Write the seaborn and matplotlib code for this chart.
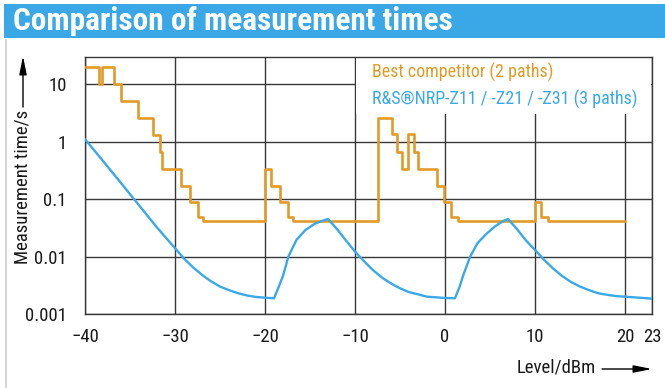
import matplotlib
matplotlib.use("Agg")
import matplotlib.pyplot as plt
import seaborn as sns
import pandas as pd
from matplotlib.patches import Rectangle, FancyArrowPatch
from matplotlib.lines import Line2D
from matplotlib.ticker import NullLocator

# ---------------- data ----------------
orange_level = [-40, -38.5, -38.1, -36.8, -36.0, -34.1, -32.5, -31.7, -31.4, -29.3,
                -28.3, -27.5, -26.9, -20.0, -19.3, -18.3, -17.5, -16.9, -7.5, -5.9,
                -5.3, -4.8, -4.1, -3.4, -3.0, -0.9, -0.1, 0.7, 1.4, 10.0,
                10.7, 11.4, 20.0]
orange_time = [20, 10, 20, 10, 5, 2.6, 1.3, 0.67, 0.34, 0.17,
               0.09, 0.049, 0.042, 0.33, 0.17, 0.09, 0.049, 0.042, 2.6, 1.33,
               0.67, 0.33, 1.33, 0.67, 0.33, 0.17, 0.09, 0.049, 0.042, 0.09,
               0.049, 0.042, 0.042]

blue_level = [-40, -38, -36, -34, -32, -30, -29, -28, -27, -26,
              -25, -24, -23, -22, -21, -20, -19.0, -18.5, -18, -17.4,
              -16.5, -15.5, -14.5, -13.6, -13.0, -12, -11, -10, -9, -8,
              -7, -6, -5, -4, -3, -2, -1, 0, 1.1, 1.6,
              2, 2.8, 3.6, 4.5, 5.5, 6.4, 7.0, 8, 9, 10,
              11, 12, 13, 14, 15, 16, 17, 18, 19, 20,
              21, 22, 23]
blue_time = [1.1, 0.46, 0.19, 0.078, 0.032, 0.014, 0.0092, 0.0065, 0.0048, 0.0037,
             0.0030, 0.0026, 0.0023, 0.0021, 0.00198, 0.00192, 0.00188, 0.0029, 0.0046, 0.0100,
             0.0195, 0.029, 0.037, 0.042, 0.045, 0.030, 0.019, 0.0122, 0.0083, 0.0058,
             0.0043, 0.0034, 0.0028, 0.0024, 0.0022, 0.0020, 0.00195, 0.0019, 0.00188, 0.0029,
             0.0046, 0.0100, 0.017, 0.024, 0.033, 0.041, 0.045, 0.030, 0.019, 0.013,
             0.0088, 0.0062, 0.0046, 0.0036, 0.0030, 0.0026, 0.0023, 0.00216, 0.00205, 0.0020,
             0.00195, 0.0019, 0.00185]

series_labels = ["Best competitor (2 paths)", "R&S®NRP-Z11 / -Z21 / -Z31 (3 paths)"]
x_ticks = [-40, -30, -20, -10, 0, 10, 20, 23]
x_tick_labels = ["\u221240", "\u221230", "\u221220", "\u221210", "0", "10", "20", "23"]
y_ticks = [0.001, 0.01, 0.1, 1, 10]
y_tick_labels = ["0.001", "0.01", "0.1", "1", "10"]
title = "Comparison of measurement times"
y_label = "Measurement time/s"
x_label = "Level/dBm"

# ---------------- style ----------------
ORANGE = "#E19A28"
BLUE = "#39A9E7"
BAR = "#3AA7E6"
GRID = "#383838"
TXT = "#1a1a1a"

sns.set_theme(style="white")
plt.rcParams["font.family"] = ["Roboto Condensed", "Liberation Sans", "DejaVu Sans"]

W, H = 665, 388
fig = plt.figure(figsize=(W / 100, H / 100), dpi=100)
fig.patch.set_facecolor("white")

def fy(py):
    return 1 - py / H

# title bar
fig.add_artist(Rectangle((4 / W, fy(38)), 1 - 4 / W, 34 / H, transform=fig.transFigure,
                         facecolor=BAR, edgecolor="none", zorder=0))
fig.text(13 / W, fy(21.5), title, color="white", fontsize=22.5, fontweight="bold",
         ha="left", va="center")
fig.add_artist(Line2D([6 / W, 6 / W], [0, fy(40)], transform=fig.transFigure,
                      color="#d6d6d6", lw=1.5))

ax = fig.add_axes([85 / W, fy(314), (652 - 85) / W, (314 - 56.7) / H])

df_orange = pd.DataFrame({"level": orange_level, "time": orange_time})
df_blue = pd.DataFrame({"level": blue_level, "time": blue_time})

sns.lineplot(data=df_orange, x="level", y="time", ax=ax, color=ORANGE, lw=1.9,
             drawstyle="steps-post", estimator=None, sort=False, legend=False, zorder=3)
sns.lineplot(data=df_blue, x="level", y="time", ax=ax, color=BLUE, lw=1.7,
             estimator=None, sort=False, legend=False, zorder=4)

ax.set_yscale("log")
ax.set_xlim(-40, 23)
ax.set_ylim(0.001, 30)
ax.set_xticks(x_ticks, x_tick_labels)
ax.set_yticks(y_ticks, y_tick_labels)
ax.yaxis.set_minor_locator(NullLocator())
ax.xaxis.set_minor_locator(NullLocator())
ax.set_xlabel("")
ax.set_ylabel("")
ax.grid(True, which="major", color=GRID, lw=1.0)
ax.set_axisbelow(True)
for s in ax.spines.values():
    s.set_visible(True)
    s.set_color(GRID)
    s.set_linewidth(1.0)
ax.tick_params(axis="both", direction="out", length=7, width=1.0, color=GRID,
               labelsize=13.5, labelcolor=TXT)
ax.tick_params(axis="y", pad=6)
ax.tick_params(axis="x", pad=3)

ax.add_patch(Rectangle((0.478, 0.777), 0.52, 0.223, transform=ax.transAxes,
                       facecolor="white", edgecolor="none", zorder=1.5))
ax.text(0.506, 0.918, series_labels[0], color=ORANGE, fontsize=13,
        transform=ax.transAxes, va="baseline", ha="left", zorder=5)
ax.text(0.506, 0.815, series_labels[1], color=BLUE, fontsize=13,
        transform=ax.transAxes, va="baseline", ha="left", zorder=5)

fig.text(23 / W, fy(187), y_label, rotation=90, ha="center", va="center",
         fontsize=13.5, color=TXT)
fig.add_artist(FancyArrowPatch((23 / W, fy(107)), (23 / W, fy(56)),
                               transform=fig.transFigure,
                               arrowstyle="-|>,head_length=1.1,head_width=0.22",
                               mutation_scale=10, color="black", lw=1.0,
                               shrinkA=0, shrinkB=0))
fig.text(556 / W, fy(368), x_label, ha="center", va="center", fontsize=13.5,
         color=TXT)
fig.add_artist(FancyArrowPatch((602 / W, fy(369)), (652 / W, fy(369)),
                               transform=fig.transFigure,
                               arrowstyle="-|>,head_length=1.1,head_width=0.22",
                               mutation_scale=10, color="black", lw=1.0,
                               shrinkA=0, shrinkB=0))

fig.savefig("out.png", dpi=100)
